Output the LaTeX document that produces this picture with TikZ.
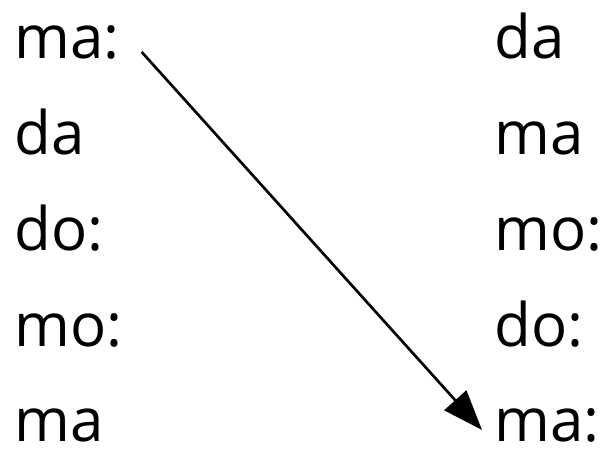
\documentclass[tikz,border=0pt]{standalone}
\usepackage{fontspec}
\setmainfont{Open Sans}
\usepackage{tikz}
\usetikzlibrary{arrows.meta}
\tikzset{
  syl/.style={anchor=base west, inner sep=0pt, font=\fontsize{45}{54}\selectfont},
  link/.style={draw=black, line width=2pt, -{Triangle[length=30pt, width=22pt]}}
}
\begin{document}
\begin{tikzpicture}[x=0.75pt, y=-0.75pt]
  \useasboundingbox (0,0) rectangle (603,452);

  % left column
  \node[syl] (l1) at (14,59)  {ma:};
  \node[syl] (l2) at (14,155) {da};
  \node[syl] (l3) at (14,251) {do:};
  \node[syl] (l4) at (14,346) {mo:};
  \node[syl] (l5) at (14,441) {ma};

  % right column
  \node[syl] (r1) at (494,59)  {da};
  \node[syl] (r2) at (494,155) {ma};
  \node[syl] (r3) at (494,251) {mo:};
  \node[syl] (r4) at (494,346) {do:};
  \node[syl] (r5) at (494,441) {ma:};

  \draw[link] ([shift={(22,9)}]l1.east) -- ([shift={(-12,5)}]r5.west);
\end{tikzpicture}
\end{document}
